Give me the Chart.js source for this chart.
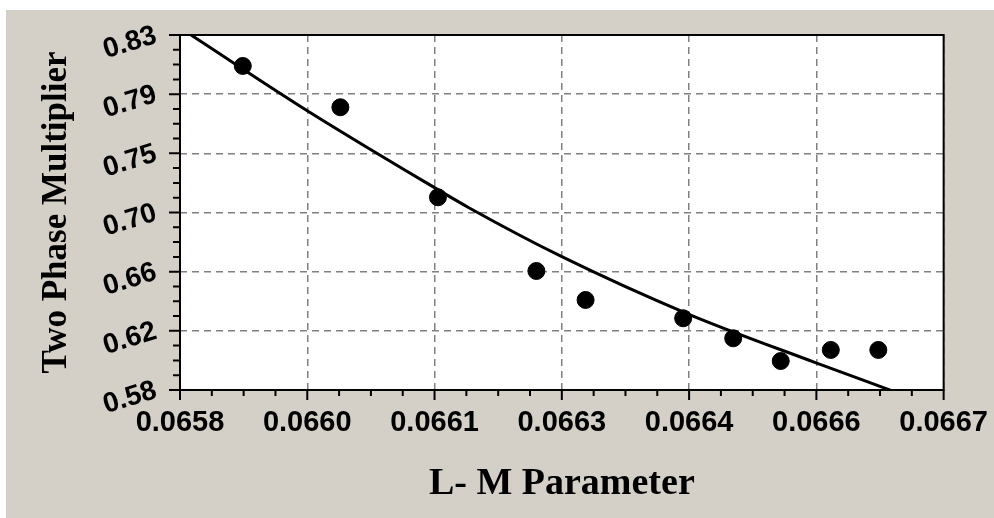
<!DOCTYPE html>
<html>
<head>
<meta charset="utf-8">
<script src="https://cdn.jsdelivr.net/npm/chart.js@4"></script>
<style>
  html, body { margin: 0; padding: 0; background: #fff; }
  #wrap { width: 994px; height: 518px; }
</style>
</head>
<body>
<div id="wrap"><canvas id="lm-chart" width="994" height="518"></canvas></div>
<script>
// measured points
const lmParam = [0.065874, 0.065989, 0.066104, 0.066220, 0.066278, 0.066393, 0.066452, 0.066508, 0.066567, 0.066623];
const multiplier = [0.8082, 0.7791, 0.7157, 0.6638, 0.6434, 0.6305, 0.6164, 0.6004, 0.6082, 0.6082];

// fitted curve
const fitX = [0.065813, 0.06595, 0.066098, 0.066141, 0.06625, 0.066399, 0.066548, 0.066642];
const fitY = [0.8300, 0.7767, 0.7232, 0.7082, 0.6739, 0.6335, 0.5995, 0.5788];

// axis ticks
const xTickValues = [0.0658, 0.06595, 0.0661, 0.06625, 0.0664, 0.06655, 0.0667];
const xTickLabels = ['0.0658', '0.0660', '0.0661', '0.0663', '0.0664', '0.0666', '0.0667'];
const yTickValues = [0.58, 0.621667, 0.663333, 0.705, 0.746667, 0.788333, 0.83];
const yTickLabels = ['0.58', '0.62', '0.66', '0.70', '0.75', '0.79', '0.83'];

const panel = {
    id: 'panel',
    beforeDraw(chart) {
        const { ctx, chartArea: a } = chart;
        ctx.save();
        ctx.fillStyle = '#ffffff';
        ctx.fillRect(0, 0, chart.width, chart.height);
        ctx.fillStyle = '#d4d0c8';
        ctx.fillRect(6, 10, chart.width - 6, chart.height - 10);
        ctx.fillStyle = '#ffffff';
        ctx.fillRect(a.left, a.top, a.right - a.left, a.bottom - a.top);
        ctx.restore();
    },
    afterDraw(chart) {
        const { ctx, chartArea: a, scales: { x, y } } = chart;
        ctx.save();
        ctx.strokeStyle = '#000';
        ctx.lineWidth = 2;
        ctx.strokeRect(a.left, a.top, a.right - a.left, a.bottom - a.top);
        ctx.beginPath();
        // x ticks, 4 steps between labels
        for (let i = 0; i < xTickValues.length; i++) {
            for (let k = 0; k < 4; k++) {
                if (i === xTickValues.length - 1 && k > 0) break;
                const v = i < xTickValues.length - 1
                    ? xTickValues[i] + (xTickValues[i + 1] - xTickValues[i]) * k / 4
                    : xTickValues[i];
                const px = x.getPixelForValue(v);
                ctx.moveTo(px, a.bottom);
                ctx.lineTo(px, a.bottom + (k === 0 ? 10 : 6));
            }
        }
        // y ticks
        for (let i = 0; i < yTickValues.length; i++) {
            for (let k = 0; k < 4; k++) {
                if (i === yTickValues.length - 1 && k > 0) break;
                const v = i < yTickValues.length - 1
                    ? yTickValues[i] + (yTickValues[i + 1] - yTickValues[i]) * k / 4
                    : yTickValues[i];
                const py = y.getPixelForValue(v);
                ctx.moveTo(a.left, py);
                ctx.lineTo(a.left - (k === 0 ? 11 : 7), py);
            }
        }
        ctx.stroke();
        ctx.restore();
    }
};

const ctx = document.getElementById('lm-chart').getContext('2d');
const lmChart = new Chart(ctx, {
    type: 'scatter',
    data: {
        datasets: [
            {
                label: 'Data',
                data: lmParam.map((v, i) => ({ x: v, y: multiplier[i] })),
                backgroundColor: '#000',
                borderColor: '#000',
                pointRadius: 8.5,
                pointHoverRadius: 8.5
            },
            {
                label: 'Fit',
                data: fitX.map((v, i) => ({ x: v, y: fitY[i] })),
                showLine: true,
                borderColor: '#000',
                borderWidth: 3,
                pointRadius: 0,
                cubicInterpolationMode: 'monotone'
            }
        ]
    },
    options: {
        responsive: false,
        animation: false,
        layout: { padding: { left: 0, top: 35, right: 48, bottom: 0 } },
        plugins: { legend: { display: false }, tooltip: { enabled: false } },
        scales: {
            x: {
                type: 'linear',
                min: 0.0658,
                max: 0.0667,
                afterBuildTicks: (s) => { s.ticks = xTickValues.map(v => ({ value: v })); },
                afterFit: (s) => { s.height = 128; },
                ticks: {
                    autoSkip: false,
                    maxRotation: 0,
                    padding: 6,
                    color: '#000',
                    font: { family: '"Liberation Sans", Arial, sans-serif', size: 29, weight: 'bold' },
                    callback: (v, i) => xTickLabels[i]
                },
                grid: { color: '#808080', lineWidth: 1.5, tickLength: 10, tickColor: 'rgba(0,0,0,0)' },
                border: { display: false, dash: [7, 5] },
                title: {
                    display: true,
                    text: 'L- M Parameter',
                    color: '#000',
                    padding: { top: 0, bottom: 11 },
                    font: { family: '"Liberation Serif", "Times New Roman", serif', size: 38, weight: 'bold' }
                }
            },
            y: {
                type: 'linear',
                min: 0.58,
                max: 0.83,
                afterBuildTicks: (s) => { s.ticks = yTickValues.map(v => ({ value: v })); },
                afterFit: (s) => { s.width = 180; },
                ticks: {
                    autoSkip: false,
                    minRotation: 17,
                    maxRotation: 17,
                    padding: 14,
                    color: '#000',
                    font: { family: '"Liberation Sans", Arial, sans-serif', size: 28, weight: 'bold' },
                    callback: (v, i) => yTickLabels[i]
                },
                grid: { color: '#808080', lineWidth: 1.5, tickLength: 10, tickColor: 'rgba(0,0,0,0)' },
                border: { display: false, dash: [7, 5] },
                title: {
                    display: true,
                    text: 'Two Phase Multiplier',
                    color: '#000',
                    padding: { top: 36, bottom: 0 },
                    font: { family: '"Liberation Serif", "Times New Roman", serif', size: 35, weight: 'bold' }
                }
            }
        }
    },
    plugins: [panel]
});
</script>
</body>
</html>
